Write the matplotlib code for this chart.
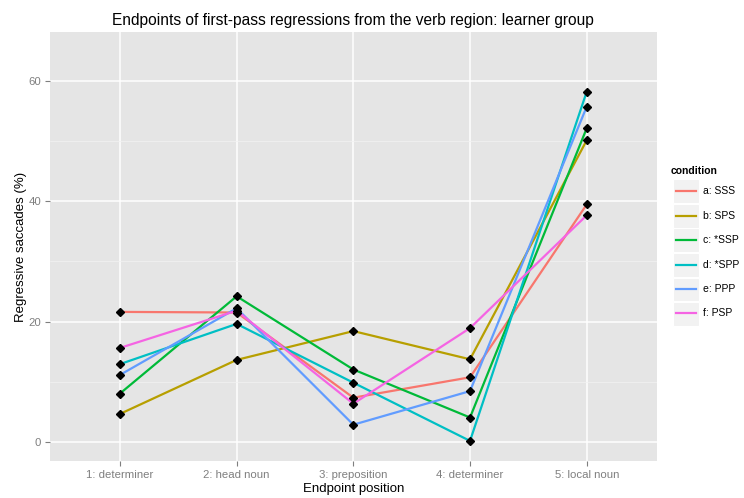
import matplotlib.pyplot as plt
from matplotlib.lines import Line2D
from matplotlib.patches import Rectangle

positions = ["1: determiner", "2: head noun", "3: preposition", "4: determiner", "5: local noun"]
conditions = ["a: SSS", "b: SPS", "c: *SSP", "d: *SPP", "e: PPP", "f: PSP"]
colors = ["#F8766D", "#B79F00", "#00BA38", "#00BFC4", "#619CFF", "#F564E3"]

sss = [21.6, 21.5, 7.3, 10.7, 39.5]
sps = [4.6, 13.6, 18.4, 13.7, 50.2]
ssp = [8.0, 24.2, 12.0, 4.0, 52.2]
spp = [12.9, 19.6, 9.8, 0.1, 58.3]
ppp = [11.1, 22.2, 2.8, 8.4, 55.8]
psp = [15.6, 21.8, 6.3, 18.9, 37.7]
series = [sss, sps, ssp, spp, ppp, psp]

plt.rcParams['font.family'] = ['Liberation Sans', 'DejaVu Sans']

W, H = 744, 498
fig = plt.figure(figsize=(W / 100, H / 100), dpi=100)
ax = fig.add_axes([50 / W, 1 - 461 / H, (656.7 - 50) / W, (461 - 32) / H])
ax.set_facecolor("#E5E5E5")
for s in ax.spines.values():
    s.set_visible(False)

x = list(range(1, len(positions) + 1))
for vals, c in zip(series, colors):
    ax.plot(x, vals, color=c, lw=1.6, zorder=3)
for vals in series:
    ax.plot(x, vals, ls="none", marker="D", ms=4.5, color="black", zorder=4)

ax.set_xlim(0.4, 5.6)
ax.set_ylim(-3.25, 68.25)
ax.set_xticks(x)
ax.set_xticklabels(positions)
ax.set_yticks([0, 20, 40, 60])
ax.set_yticks([10, 30, 50], minor=True)
ax.grid(True, which="major", color="white", lw=1.1, zorder=0)
ax.grid(True, which="minor", axis="y", color="#F2F2F2", lw=0.5, zorder=0)
ax.set_axisbelow(True)
ax.tick_params(which="major", colors="#7F7F7F", labelsize=8.2, length=3.5, width=0.8, pad=3)
ax.tick_params(which="minor", length=0)

ax.set_xlabel("Endpoint position", fontsize=9.5, labelpad=2)
ax.set_ylabel("Regressive saccades (%)", fontsize=9.5, labelpad=1)
ax.set_title("Endpoints of first-pass regressions from the verb region: learner group",
             fontsize=11.2, pad=5)

# legend
fig.text(671 / W, 1 - 171 / H, "condition", fontsize=7.5, fontweight="bold", va="center")
for i, (lab, c) in enumerate(zip(conditions, colors)):
    yc = 191 + i * 24.5
    fig.patches.append(Rectangle((673 / W, 1 - (yc + 12) / H), 26 / W, 23.5 / H,
                                 transform=fig.transFigure, facecolor="#F2F2F2",
                                 edgecolor="white", lw=0.8))
    fig.lines.append(Line2D([676 / W, 696 / W], [1 - yc / H, 1 - yc / H],
                            transform=fig.transFigure, color=c, lw=1.6))
    fig.text(703 / W, 1 - yc / H, lab, fontsize=7.5, va="center")

fig.savefig("out.png", dpi=100)
